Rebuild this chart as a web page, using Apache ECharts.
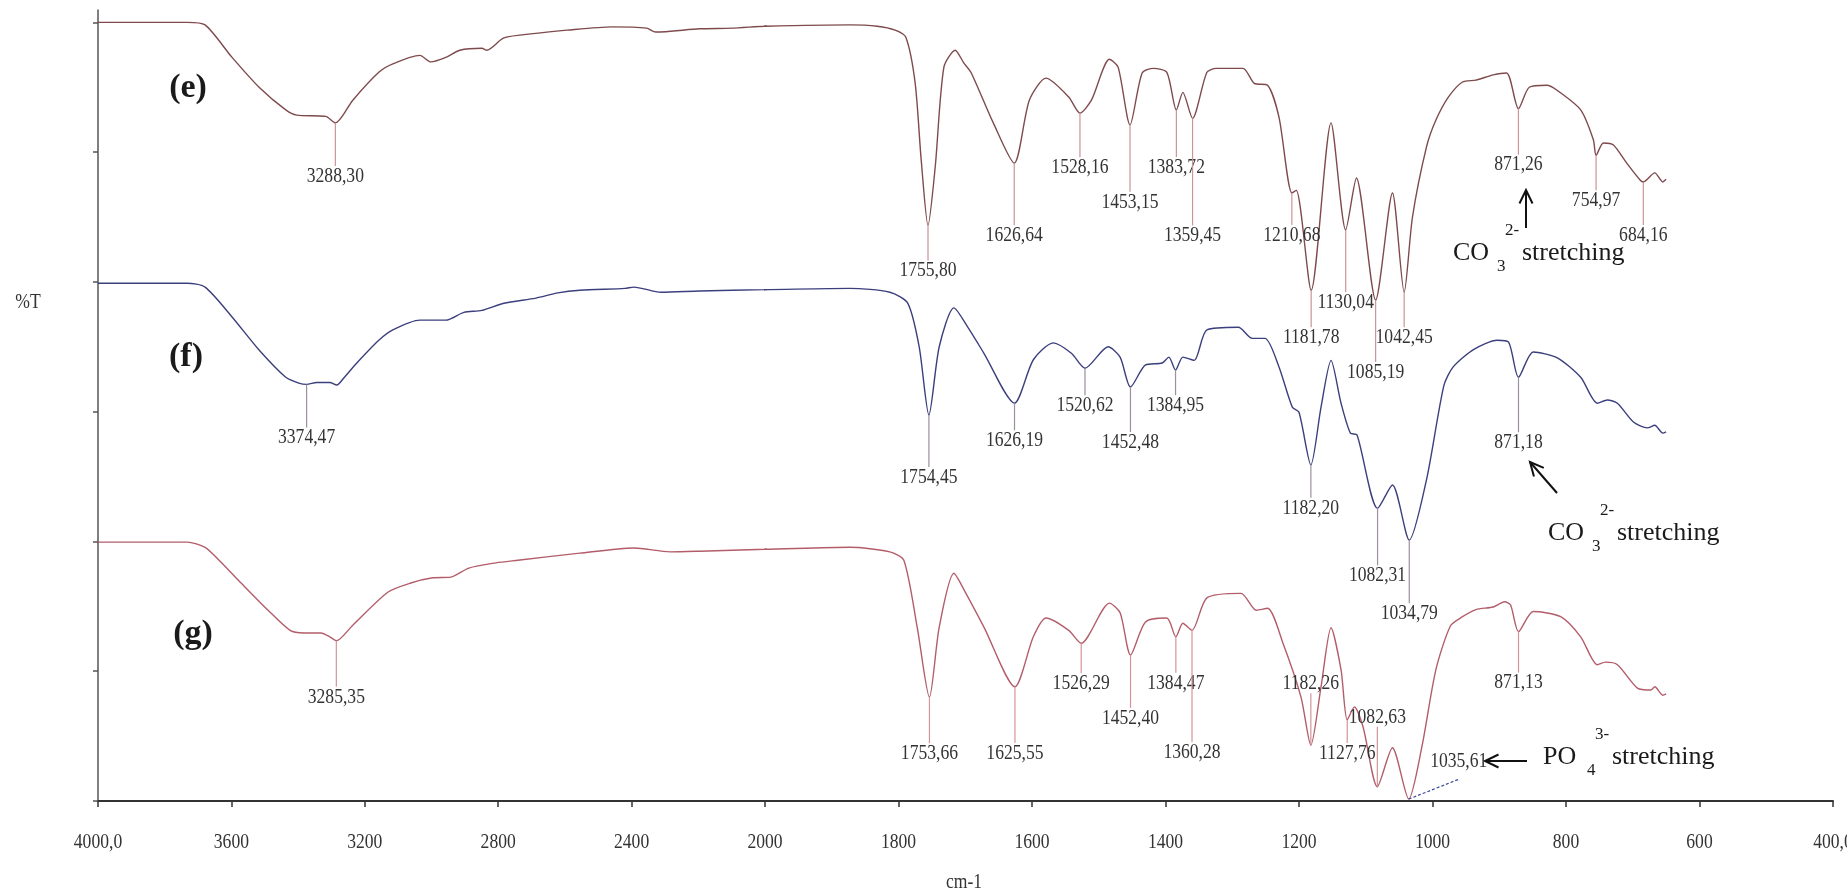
<!DOCTYPE html>
<html>
<head>
<meta charset="utf-8">
<title>FTIR spectra</title>
<script src="https://cdn.jsdelivr.net/npm/echarts@6/dist/echarts.min.js"></script>
<style>
  html, body { margin: 0; padding: 0; background: #ffffff; }
  #chart { width: 1847px; height: 891px; }
</style>
</head>
<body>
<div id="chart"></div>
<script>
// ---- Spectra: [wavenumber (cm-1), %T (stacked, arbitrary offset)] ----
const spectrumE = [
  [4000,120.0],[3733,120.0],[3679,119.6],[3598,114.6],[3517,110.0],[3437,106.5],[3404,105.7],[3317,105.5],
  [3288.30,104.5],[3236,108.0],[3158,112.3],[3116,113.6],[3035,114.9],[3002,113.9],[2957,114.6],[2915,115.7],
  [2849,116.0],[2834,115.7],[2783,117.6],[2687,118.3],[2594,118.8],[2459,119.3],[2355,119.1],[2328,118.5],
  [2196,119.0],[2100,119.1],[2000,119.4],[1873,119.6],[1832,119.4],[1805,118.8],[1789,117.7],[1775,110.6],
  [1766,98.8],[1755.80,88.7],[1745,97.7],[1732,113.1],[1715,115.7],[1702,113.7],[1691,112.2],[1658,104.5],
  [1626.64,98.3],[1604,108.0],[1579,111.4],[1545,108.5],[1528.16,106.0],[1511,108.0],[1484,114.3],[1471,113.1],
  [1453.15,104.2],[1435,112.2],[1418,112.9],[1398,112.3],[1383.72,106.5],[1374,109.2],[1359.45,105.2],[1338,112.3],
  [1324,112.9],[1284,112.9],[1267,110.6],[1247,110.3],[1230,105.4],[1210.68,93.7],[1204,94.1],[1181.78,78.7],
  [1152,104.5],[1130.04,88.0],[1114,96.0],[1085.19,77.2],[1060,93.7],[1042.45,78.4],[1030,90.0],[1009,100.8],
  [995,104.9],[976,108.5],[955,110.8],[935,111.1],[909,111.9],[889,112.2],[871.26,106.7],[855,110.0],
  [829,110.3],[813,109.5],[778,106.5],[759,101.9],[754.97,99.5],[744,101.4],[729,101.1],[709,98.3],
  [689,95.7],[684.16,95.4],[667,96.8],[655,95.4],[650,95.8]
];
const spectrumF = [
  [4000,79.8],[3733,79.8],[3679,79.2],[3598,74.6],[3517,69.5],[3437,65.3],[3398,64.4],[3374.47,64.2],
  [3344,64.5],[3305,64.5],[3284,64.1],[3263,65.2],[3224,67.5],[3158,71.0],[3116,72.6],[3035,74.1],
  [2957,74.1],[2903,75.3],[2849,75.6],[2783,76.7],[2687,77.5],[2621,78.3],[2555,78.7],[2420,79.0],
  [2393,79.2],[2312,78.4],[2196,78.6],[2000,78.8],[1873,79.0],[1813,78.4],[1786,76.7],[1769,70.0],
  [1754.45,59.5],[1739,70.0],[1717,76.0],[1696,73.0],[1672,69.0],[1626.19,61.3],[1598,68.0],[1568,70.6],
  [1541,69.0],[1520.62,66.7],[1486,70.0],[1468,68.4],[1452.48,63.8],[1430,67.2],[1405,67.5],[1395,68.4],
  [1384.95,66.4],[1374,68.4],[1357,67.9],[1338,72.6],[1291,73.0],[1270,71.3],[1251,71.3],[1230,66.9],
  [1210,60.7],[1200,59.9],[1182.20,51.8],[1167,60.7],[1152,67.9],[1137,61.3],[1123,56.7],[1113,56.4],
  [1082.31,45.1],[1060,48.7],[1034.79,40.2],[1009,49.5],[983,64.0],[969,66.9],[938,69.6],[903,71.0],
  [886,70.7],[871.18,65.3],[849,69.2],[813,68.3],[778,65.3],[753,61.3],[738,61.8],[723,61.3],
  [699,58.4],[678,57.5],[667,57.9],[655,56.7],[650,56.9]
];
const spectrumG = [
  [4000,39.9],[3733,39.9],[3679,39.1],[3637,37.1],[3571,33.6],[3490,29.4],[3424,26.3],[3383,25.9],
  [3331,25.9],[3305,25.3],[3285.35,24.7],[3236,27.1],[3130,32.2],[3062,33.6],[2996,34.4],[2942,34.5],
  [2888,35.9],[2807,36.7],[2741,37.1],[2555,38.2],[2393,39.0],[2285,38.4],[2196,38.5],[2000,38.8],
  [1873,39.1],[1813,38.4],[1792,37.1],[1772,26.8],[1753.66,16.0],[1739,26.8],[1717,35.1],[1699,32.0],
  [1672,26.8],[1625.55,17.6],[1598,25.3],[1579,28.2],[1545,26.3],[1526.29,24.3],[1484,30.5],[1468,29.0],
  [1452.40,22.5],[1430,27.6],[1398,28.2],[1384.47,25.3],[1374,27.4],[1360.28,26.3],[1338,31.3],[1287,32.0],
  [1264,29.4],[1247,29.7],[1224,24.3],[1197,16.0],[1182.26,8.6],[1167,17.6],[1152,26.7],[1137,20.2],
  [1127.76,12.5],[1117,14.5],[1104,11.4],[1082.63,2.2],[1060,8.2],[1035.61,0.3],[1016,8.3],[995,20.2],
  [973,27.0],[955,28.4],[935,29.5],[909,29.9],[892,30.7],[883,30.2],[871.13,26.1],[849,29.2],
  [808,28.4],[778,25.3],[753,21.0],[741,21.4],[723,21.0],[693,17.4],[673,17.1],[667,17.6],
  [655,16.3],[650,16.5]
];

// ---- Annotated band positions (cm-1) ----
const peaksE = [3288.30,1755.80,1626.64,1528.16,1453.15,1383.72,1359.45,1210.68,1181.78,1130.04,1085.19,1042.45,871.26,754.97,684.16];
const peaksF = [3374.47,1754.45,1626.19,1520.62,1452.48,1384.95,1182.20,1082.31,1034.79,871.18];
const peaksG = [3285.35,1753.66,1625.55,1526.29,1452.40,1384.47,1360.28,1182.26,1127.76,1082.63,1035.61,871.13];

// ---- Axis ticks ----
const ticksHigh = [4000, 3600, 3200, 2800, 2400, 2000];
const ticksLow = [2000, 1800, 1600, 1400, 1200, 1000, 800, 600, 400];
const tickText = { 4000: '4000,0', 400: '400,0' };
const yTicks = [0, 20, 40, 60, 80, 100, 120];

// ---- Label placement (px offsets of each label centre from its band) ----
const layoutE = [[0,53],[0,45],[0,72],[0,54],[0,77],[0,57],[0,117],[0,42],[0,47],[0,72],[0,72],[0,45],[0,56],[0,45],[0,53]];
const layoutF = [[0,53],[0,62],[0,37],[0,37],[0,55],[0,35],[0,43],[0,67],[0,73],[0,65]];
const layoutG = [[0,56],[0,56],[0,66],[0,40],[0,63],[0,46],[0,122],[0,-62],[0,33],[0,-70],[50,-38],[0,51]];

const SERIF = "'Liberation Serif', 'Times New Roman', serif";
const NUM_FONT = '22px ' + SERIF;   // condensed horizontally with scaleX below
const NUM_SCALE = 0.8;
const Y_MAX = 121.9;

const colors = {
  e: '#7e4a4c', f: '#3b3f7c', g: '#b35d6a',
  eTick: '#c99597', fTick: '#9c8f9e', gTick: '#d4949c'
};

function fmt(w) { return w.toFixed(2).replace('.', ','); }

function numText(x, y, text) {
  return { type: 'text', x, y, scaleX: NUM_SCALE, scaleY: 1,
    style: { text, font: NUM_FONT, fill: '#333333',
             align: 'center', verticalAlign: 'middle', textAlign: 'center', textVerticalAlign: 'middle' } };
}

function lineSeries(name, data, gridIdx, color) {
  return {
    name, type: 'line', data, xAxisIndex: gridIdx, yAxisIndex: gridIdx,
    showSymbol: false, symbol: 'none', clip: true, animation: false, silent: true,
    smooth: 0.25,
    lineStyle: { color, width: 1.4 }, z: 2
  };
}

function peakSeries(peaks, layout, spectrum, gridIdx, tickColor) {
  const inGrid = gridIdx === 0 ? (w => w > 2000) : (w => w <= 2000);
  const data = [];
  peaks.forEach((w, i) => {
    if (!inGrid(w)) return;
    const pt = spectrum.find(p => p[0] === w);
    data.push([w, pt[1], layout[i][0], layout[i][1]]);
  });
  return {
    type: 'custom', coordinateSystem: 'cartesian2d', xAxisIndex: gridIdx, yAxisIndex: gridIdx,
    silent: true, animation: false, z: 3, data,
    renderItem(params, api) {
      const w = api.value(0), t = api.value(1), dx = api.value(2), dy = api.value(3);
      const p = api.coord([w, t]);
      const children = [];
      if (dx === 0) {
        const end = dy > 0 ? p[1] + dy - 10 : p[1] + dy + 10;
        children.push({ type: 'line', shape: { x1: p[0], y1: p[1], x2: p[0], y2: end },
          style: { stroke: tickColor, lineWidth: 1.2 } });
      } else {
        children.push({ type: 'line', shape: { x1: p[0], y1: p[1], x2: p[0] + dx, y2: p[1] + dy * 0.52 },
          style: { stroke: '#3a4a9a', lineWidth: 1.2, lineDash: [3, 2] } });
      }
      children.push(numText(p[0] + dx, p[1] + dy, fmt(w)));
      return { type: 'group', children };
    }
  };
}

// Tick labels drawn through each x axis scale, just under the axis line
function tickLabelSeries(ticks, gridIdx) {
  return {
    type: 'custom', coordinateSystem: 'cartesian2d', xAxisIndex: gridIdx, yAxisIndex: gridIdx,
    silent: true, animation: false, z: 3, clip: false,
    data: ticks.map(v => [v, 0]),
    renderItem(params, api) {
      const v = api.value(0);
      const p = api.coord([v, 0]);
      return numText(p[0], p[1] + 41, tickText[v] || String(v));
    }
  };
}

function arrow(x1, y1, x2, y2) {
  const a = Math.atan2(y2 - y1, x2 - x1), L = 15, s = 0.45;
  return [
    { type: 'line', shape: { x1, y1, x2, y2 }, style: { stroke: '#111', lineWidth: 2 } },
    { type: 'polyline', shape: { points: [
        [x2 - L * Math.cos(a - s), y2 - L * Math.sin(a - s)], [x2, y2],
        [x2 - L * Math.cos(a + s), y2 - L * Math.sin(a + s)] ] },
      style: { stroke: '#111', lineWidth: 2, fill: null } }
  ];
}

function txt(x, y, text, font, align) {
  return { type: 'text', x, y, style: { text, font, fill: '#1a1a1a',
    align: align || 'left', verticalAlign: 'middle', textAlign: align || 'left', textVerticalAlign: 'middle' } };
}

function ionLabel(x, y, base, sub, sup) {
  const big = '26px ' + SERIF, small = '17px ' + SERIF;
  return [
    txt(x, y, base, big),
    txt(x + 44, y + 14, sub, small),
    txt(x + 52, y - 22, sup, small),
    txt(x + 69, y, 'stretching', big)
  ];
}

const xAxisCommon = {
  type: 'value', inverse: true,
  axisLine: { show: true, onZero: false, lineStyle: { color: '#333', width: 2 } },
  axisLabel: { show: false },
  splitLine: { show: false }
};
const xTickStyle = { show: true, length: 6, lineStyle: { color: '#333', width: 1.5 } };

const option = {
  backgroundColor: '#ffffff',
  animation: false,
  grid: [
    { left: 98, top: 10, width: 667, bottom: 90 },
    { left: 765, top: 10, right: 14, bottom: 90 }
  ],
  xAxis: [
    Object.assign({}, xAxisCommon, { gridIndex: 0, min: 2000, max: 4000, interval: 400,
      axisTick: Object.assign({ customValues: ticksHigh }, xTickStyle) }),
    Object.assign({}, xAxisCommon, { gridIndex: 1, min: 400, max: 2000, interval: 200,
      axisTick: Object.assign({ customValues: ticksLow }, xTickStyle) })
  ],
  yAxis: [
    { gridIndex: 0, type: 'value', min: 0, max: Y_MAX, interval: 20,
      axisLine: { show: true, onZero: false, lineStyle: { color: '#555', width: 1.5 } },
      axisTick: { show: true, length: 5, customValues: yTicks, lineStyle: { color: '#555', width: 1.5 } },
      axisLabel: { show: false }, splitLine: { show: false } },
    { gridIndex: 1, type: 'value', min: 0, max: Y_MAX, show: false, splitLine: { show: false } }
  ],
  series: [
    lineSeries('(e)', spectrumE, 0, colors.e), lineSeries('(e)', spectrumE, 1, colors.e),
    lineSeries('(f)', spectrumF, 0, colors.f), lineSeries('(f)', spectrumF, 1, colors.f),
    lineSeries('(g)', spectrumG, 0, colors.g), lineSeries('(g)', spectrumG, 1, colors.g),
    peakSeries(peaksE, layoutE, spectrumE, 0, colors.eTick), peakSeries(peaksE, layoutE, spectrumE, 1, colors.eTick),
    peakSeries(peaksF, layoutF, spectrumF, 0, colors.fTick), peakSeries(peaksF, layoutF, spectrumF, 1, colors.fTick),
    peakSeries(peaksG, layoutG, spectrumG, 0, colors.gTick), peakSeries(peaksG, layoutG, spectrumG, 1, colors.gTick),
    tickLabelSeries(ticksHigh.slice(0, -1), 0),
    tickLabelSeries(ticksLow, 1)
  ],
  graphic: [
    txt(188, 88, '(e)', 'bold 34px ' + SERIF, 'center'),
    txt(186, 357, '(f)', 'bold 34px ' + SERIF, 'center'),
    txt(193, 634, '(g)', 'bold 34px ' + SERIF, 'center'),
    numText(28, 302, '%T'),
    numText(964, 882, 'cm-1'),
    ...ionLabel(1453, 253, 'CO', '3', '2-'),
    ...arrow(1526, 228, 1526, 190),
    ...ionLabel(1548, 533, 'CO', '3', '2-'),
    ...arrow(1557, 493, 1530, 462),
    ...ionLabel(1543, 757, 'PO', '4', '3-'),
    ...arrow(1527, 761, 1485, 761)
  ]
};

const chart = echarts.init(document.getElementById('chart'), null, { renderer: 'canvas' });
chart.setOption(option);
</script>
</body>
</html>
